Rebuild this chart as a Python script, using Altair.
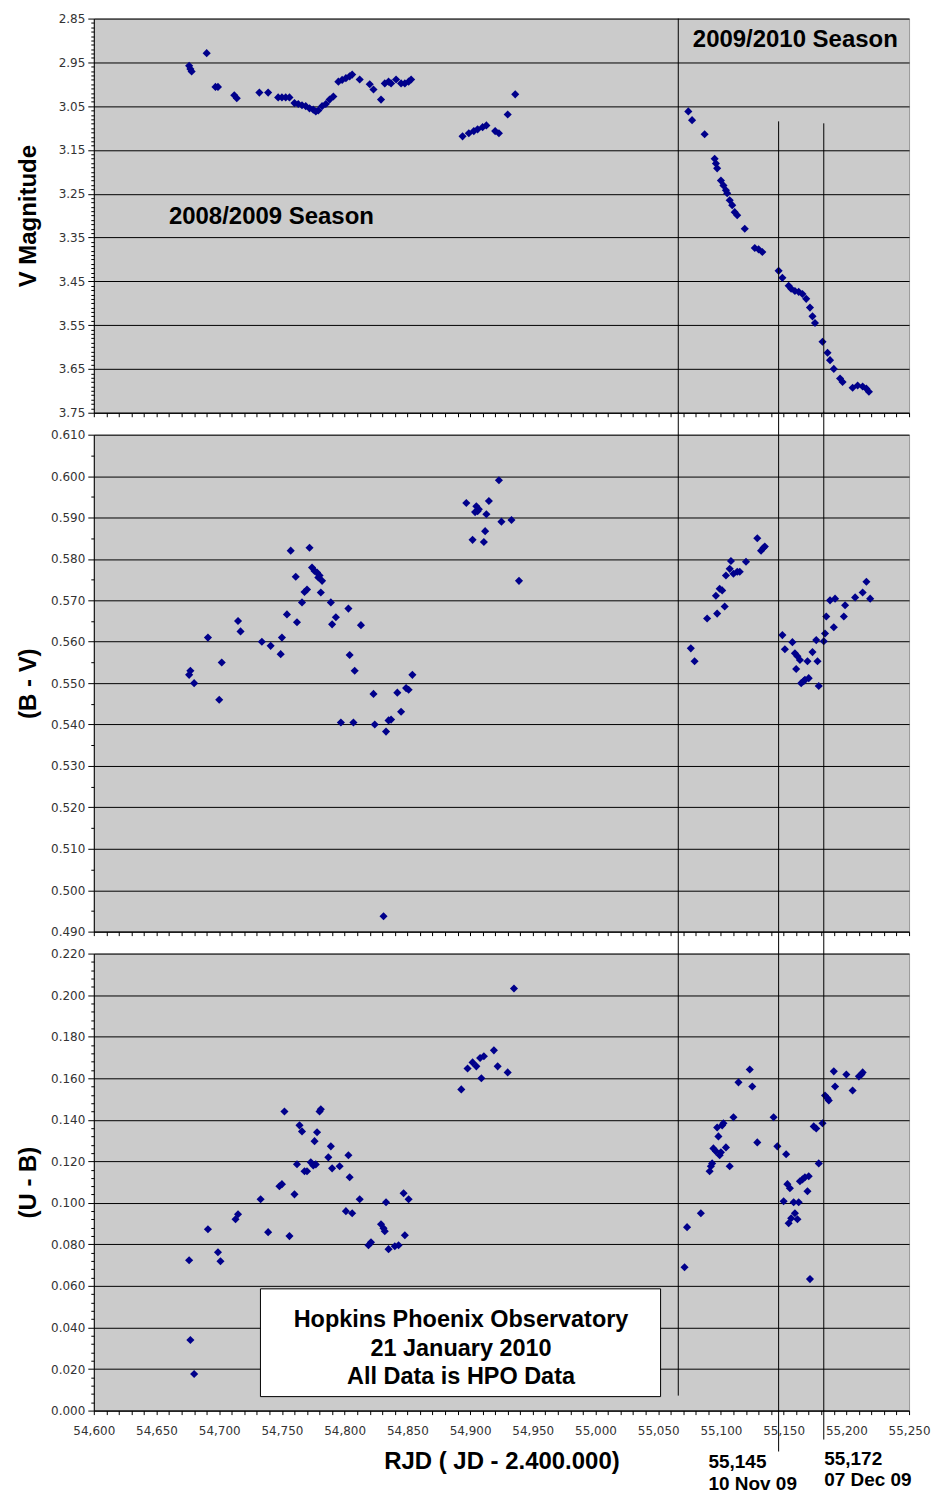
import altair as alt
import pandas as pd

# ---------------- data ----------------
v_jd = [54676, 54677, 54678, 54690, 54697, 54699, 54712, 54714,
        54732, 54739, 54747, 54750, 54753, 54756,
        54760, 54763, 54766, 54769, 54772, 54775, 54777, 54779,
        54782, 54785, 54788, 54791,
        54795, 54798, 54801, 54804, 54806, 54812,
        54820, 54823, 54829,
        54832, 54835, 54837, 54841, 54845, 54848, 54851, 54853,
        54894, 54899, 54903, 54906, 54910, 54913, 54920, 54923, 54930, 54936,
        55074, 55077, 55087, 55095, 55096, 55097, 55100, 55102, 55104, 55105,
        55107, 55109, 55111, 55113, 55119, 55127, 55130, 55133, 55146, 55149,
        55154, 55156, 55159, 55162, 55165, 55168, 55171, 55173, 55175, 55181,
        55185, 55187, 55190, 55195, 55197, 55205, 55209, 55213, 55216, 55218]
v_mag = [2.958, 2.965, 2.971, 2.929, 3.006, 3.006, 3.025, 3.032,
         3.019, 3.019, 3.030, 3.030, 3.030, 3.030,
         3.043, 3.045, 3.048, 3.050, 3.055, 3.058, 3.062, 3.060,
         3.050, 3.045, 3.035, 3.028,
         2.994, 2.990, 2.986, 2.982, 2.978, 2.989,
         3.000, 3.012, 3.035,
         2.998, 2.994, 2.998, 2.989, 2.998, 2.998, 2.994, 2.989,
         3.119, 3.112, 3.107, 3.103, 3.098, 3.094, 3.107, 3.112, 3.069, 3.023,
         3.062, 3.082, 3.114, 3.170, 3.181, 3.192, 3.220, 3.231, 3.242, 3.249,
         3.265, 3.276, 3.292, 3.299, 3.330, 3.374, 3.377, 3.383, 3.426, 3.442,
         3.460, 3.467, 3.472, 3.474, 3.479, 3.490, 3.510, 3.530, 3.545, 3.588,
         3.613, 3.630, 3.650, 3.672, 3.680, 3.693, 3.688, 3.690, 3.695, 3.702]

bv_jd = [54676, 54677, 54680, 54691, 54700, 54702, 54715, 54717, 54734, 54741,
         54749, 54750, 54754, 54757, 54761, 54762, 54766, 54768, 54770, 54772,
         54774, 54776, 54778, 54779, 54780, 54782, 54781, 54789, 54790, 54793,
         54803, 54813, 54804, 54808, 54797, 54807, 54823, 54824, 54831, 54833,
         54835, 54837, 54842, 54845, 54849, 54851, 54854,
         54897, 54904, 54905, 54906, 54907, 54913, 54915, 54923, 54925, 54933,
         54912, 54902, 54911, 54939,
         55076, 55079, 55089, 55097, 55103, 55096, 55099, 55101, 55104, 55107,
         55108, 55110, 55113, 55115, 55120, 55129, 55132, 55134, 55135, 55149,
         55151, 55157, 55159, 55161, 55163, 55160, 55164, 55166, 55167, 55170,
         55169, 55173, 55176, 55177, 55178, 55182, 55183, 55184, 55190, 55187,
         55191, 55198, 55199, 55207, 55213, 55216, 55219]
bv_val = [0.552, 0.553, 0.550, 0.561, 0.546, 0.555, 0.565, 0.5625, 0.560, 0.559,
          0.557, 0.561, 0.5666, 0.582, 0.5757, 0.5647, 0.5695, 0.572, 0.5726, 0.5827,
          0.5779, 0.5771, 0.5767, 0.5755, 0.576, 0.5747, 0.5719, 0.5695, 0.5642, 0.5659,
          0.568, 0.564, 0.5568, 0.553, 0.5405, 0.5405, 0.5474, 0.540, 0.4937, 0.5383,
          0.541, 0.5412, 0.5477, 0.5431, 0.5488, 0.5484, 0.552,
          0.5935, 0.5913, 0.5927, 0.5915, 0.592, 0.5908, 0.594, 0.599, 0.589, 0.5894,
          0.5867, 0.5846, 0.5841, 0.5747,
          0.5584, 0.5553, 0.5656, 0.5668, 0.5685, 0.5711, 0.5728, 0.5724, 0.576, 0.5776,
          0.5795, 0.5764, 0.5769, 0.5769, 0.5793, 0.585, 0.582, 0.5827, 0.583, 0.5616,
          0.5582, 0.5599, 0.5572, 0.5565, 0.5556, 0.5534, 0.550, 0.5505, 0.5508, 0.5512,
          0.5553, 0.5575, 0.5604, 0.5553, 0.5493, 0.5601, 0.562, 0.5661, 0.5635, 0.570,
          0.5704, 0.5661, 0.5688, 0.5707, 0.5719, 0.5745, 0.5704]

ub_jd = [54676, 54677, 54680, 54691, 54699, 54701, 54713, 54715, 54733, 54739,
         54748, 54750, 54752, 54756, 54760, 54762, 54764, 54766, 54768, 54770,
         54773, 54775, 54777, 54776, 54778, 54780, 54781, 54787, 54789, 54790,
         54796, 54803, 54804, 54801, 54806, 54812, 54819, 54821, 54829, 54831,
         54832, 54833, 54835, 54840, 54843, 54847, 54851, 54848,
         54893, 54898, 54902, 54905, 54908, 54911, 54909, 54919, 54922, 54930, 54935,
         55071, 55073, 55084, 55091, 55092, 55093, 55094, 55096, 55099, 55100,
         55104, 55098, 55097, 55101, 55102, 55107, 55110, 55114, 55123, 55125,
         55129, 55142, 55145, 55152, 55150, 55153, 55155, 55158, 55162, 55154,
         55156, 55159, 55161, 55163, 55165, 55167, 55170, 55169, 55171, 55178,
         55174, 55176, 55181, 55183, 55185, 55186, 55191, 55190, 55200, 55205,
         55210, 55212, 55213]
ub_val = [0.0724, 0.034, 0.0176, 0.0873, 0.0762, 0.0719, 0.0921, 0.0945, 0.1017, 0.0859,
          0.108, 0.109, 0.144, 0.084, 0.1041, 0.1186, 0.1373, 0.1344, 0.1152, 0.1152,
          0.1195, 0.118, 0.1185, 0.1297, 0.134, 0.144, 0.145, 0.1219, 0.1272, 0.1166,
          0.1176, 0.1229, 0.1123, 0.096, 0.095, 0.1017, 0.0796, 0.081, 0.0897, 0.0878,
          0.0863, 0.1003, 0.0777, 0.0791, 0.0796, 0.1046, 0.1017, 0.0844,
          0.1546, 0.1647, 0.1676, 0.1657, 0.1697, 0.1706, 0.160, 0.1734, 0.1657, 0.1628, 0.2032,
          0.069, 0.0883, 0.095, 0.1152, 0.1176, 0.119, 0.1262, 0.1248, 0.1229, 0.1243,
          0.1267, 0.132, 0.1363, 0.1373, 0.1383, 0.1176, 0.1412, 0.158, 0.1642, 0.156,
          0.1291, 0.1412, 0.1272, 0.1234, 0.1008, 0.109, 0.107, 0.1003, 0.1003, 0.0902,
          0.0926, 0.095, 0.0921, 0.1104, 0.1113, 0.1123, 0.1128, 0.1056, 0.0633, 0.119,
          0.1368, 0.1358, 0.1383, 0.1517, 0.1503, 0.1493, 0.156, 0.1633, 0.1618, 0.1541,
          0.1609, 0.1618, 0.1628]

rule_jd = [55066, 55146, 55182]
season_labels = ["2008/2009 Season", "2009/2010 Season"]
date_labels = [["55,145", "10 Nov 09"], ["55,172", "07 Dec 09"]]
box_lines = ["Hopkins Phoenix Observatory", "21 January 2010", "All Data is HPO Data"]
x_title = "RJD ( JD - 2.400.000)"

# ---------------- layout / style ----------------
W = 817
H_TOP, H_MID, H_BOT = 395, 498, 458
X_DOMAIN = [54600, 55250]
FONT = "Liberation Sans"
TICK_FONT = "DejaVu Sans"
PT_COLOR = "#00008B"
ONE = alt.InlineData(values=[{}])
X_SCALE = alt.Scale(domain=X_DOMAIN, nice=False, zero=False)


def x_axis(show_labels, title=None):
    test = "abs(datum.value % 50) < 0.5"
    kw = dict(
        values=list(range(54600, 55251, 10)),
        labels=show_labels,
        labelExpr=f"({test}) ? format(datum.value, ',d') : ''",
        labelOverlap=False, labelFlush=False, labelBound=False,
        labelSeparation=0,
        labelFont=TICK_FONT, labelFontSize=12, labelColor="#333333",
        labelPadding=11,
        tickSize=4, tickColor="black", domainColor="black",
        grid=False,
    )
    if title:
        kw.update(title=title, titleFont=FONT, titleFontSize=24,
                  titleFontWeight="bold", titleColor="black",
                  titleY=39, titleBaseline="top")
    else:
        kw.update(title=None)
    return alt.Axis(**kw)


def y_axis(values, test, fmt, title):
    return alt.Axis(
        values=values,
        labelExpr=f"({test}) ? format(datum.value, '{fmt}') : ''",
        labelOverlap=False,
        labelFont=TICK_FONT, labelFontSize=12, labelColor="#333333",
        labelPadding=3,
        tickSize={"condition": {"test": test, "value": 6}, "value": 3},
        tickColor="black", domainColor="black",
        grid=True, gridColor="black", gridWidth=1,
        gridOpacity={"condition": {"test": test, "value": 1}, "value": 0},
        title=title, titleFont=FONT, titleFontSize=24, titleFontWeight="bold",
        titleColor="black", titleX=-65, titleBaseline="middle",
    )


def vrule(jd, y0, y1, xaxis):
    return alt.Chart(ONE).mark_rule(color="black", strokeWidth=1).encode(
        x=alt.XDatum(jd, type="quantitative", scale=X_SCALE, axis=xaxis),
        y=alt.value(y0), y2=alt.value(y1))


def label(text, x, y, size=24, align="center"):
    return alt.Chart(ONE).mark_text(
        font=FONT, fontSize=size, fontWeight="bold", color="black",
        align=align, baseline="middle").encode(
        x=alt.value(x), y=alt.value(y), text=alt.value(text))


def points(df, yscale, yaxis, xaxis):
    return alt.Chart(df).mark_point(
        shape="diamond", filled=True, size=66, color=PT_COLOR, opacity=1
    ).encode(
        x=alt.X("jd:Q", scale=X_SCALE, axis=xaxis),
        y=alt.Y("val:Q", scale=yscale, axis=yaxis),
    )


# ---------------- top panel: V magnitude ----------------
df_v = pd.DataFrame({"jd": v_jd, "val": v_mag})
top_vals = [round(2.85 + 0.01 * i, 2) for i in range(91)]
top_test = "abs((datum.value - 2.85) * 10 - round((datum.value - 2.85) * 10)) < 0.01"
xa_top = x_axis(False)
top = alt.layer(
    points(df_v,
           alt.Scale(domain=[2.85, 3.75], reverse=True, nice=False, zero=False),
           y_axis(top_vals, top_test, ".2f", "V Magnitude"),
           xa_top),
    vrule(rule_jd[0], 0, H_TOP, xa_top),
    vrule(rule_jd[1], 103, H_TOP, xa_top),
    vrule(rule_jd[2], 105, H_TOP, xa_top),
    label(season_labels[0], 178, 199),
    label(season_labels[1], 703, 21),
).properties(width=W, height=H_TOP)

# ---------------- middle panel: B - V ----------------
df_bv = pd.DataFrame({"jd": bv_jd, "val": bv_val})
mid_vals = [round(0.49 + 0.005 * i, 3) for i in range(25)]
mid_test = "abs(datum.value * 100 - round(datum.value * 100)) < 0.01"
xa_mid = x_axis(False)
mid = alt.layer(
    points(df_bv,
           alt.Scale(domain=[0.49, 0.61], nice=False, zero=False),
           y_axis(mid_vals, mid_test, ".3f", "(B - V)"),
           xa_mid),
    vrule(rule_jd[0], -23, H_MID, xa_mid),
    vrule(rule_jd[1], -23, H_MID, xa_mid),
    vrule(rule_jd[2], -23, H_MID, xa_mid),
).properties(width=W, height=H_MID)

# ---------------- bottom panel: U - B ----------------
df_ub = pd.DataFrame({"jd": ub_jd, "val": ub_val})
bot_vals = [round(0.004 * i, 3) for i in range(56)]
bot_test = "abs(datum.value * 50 - round(datum.value * 50)) < 0.01"
xa_bot = x_axis(True, x_title)
box = alt.Chart(ONE).mark_rect(fill="white", stroke="black", strokeWidth=1).encode(
    x=alt.value(167), x2=alt.value(568), y=alt.value(336), y2=alt.value(444))
bot = alt.layer(
    points(df_ub,
           alt.Scale(domain=[0.0, 0.22], nice=False, zero=False),
           y_axis(bot_vals, bot_test, ".3f", "(U - B)"),
           xa_bot),
    vrule(rule_jd[0], -22, 443, xa_bot),
    vrule(rule_jd[1], -22, 499, xa_bot),
    vrule(rule_jd[2], -22, 487, xa_bot),
    box,
    label(box_lines[0], 368, 367, size=23.5),
    label(box_lines[1], 368, 396, size=23.5),
    label(box_lines[2], 368, 424, size=23.5),
    label(date_labels[0][0], 616, 510, size=19, align="left"),
    label(date_labels[0][1], 616, 532, size=19, align="left"),
    label(date_labels[1][0], 732, 507, size=19, align="left"),
    label(date_labels[1][1], 732, 528, size=19, align="left"),
).properties(width=W, height=H_BOT)

chart = alt.vconcat(top, mid, bot, spacing=22, bounds="flush").properties(
    background="white",
    padding={"left": 16, "top": 10, "right": 5, "bottom": 5},
).configure_view(fill="#CBCBCB", stroke="#9A9A9A", strokeWidth=1)

chart.save("out.html", embed_options={"renderer": "svg", "actions": False})
